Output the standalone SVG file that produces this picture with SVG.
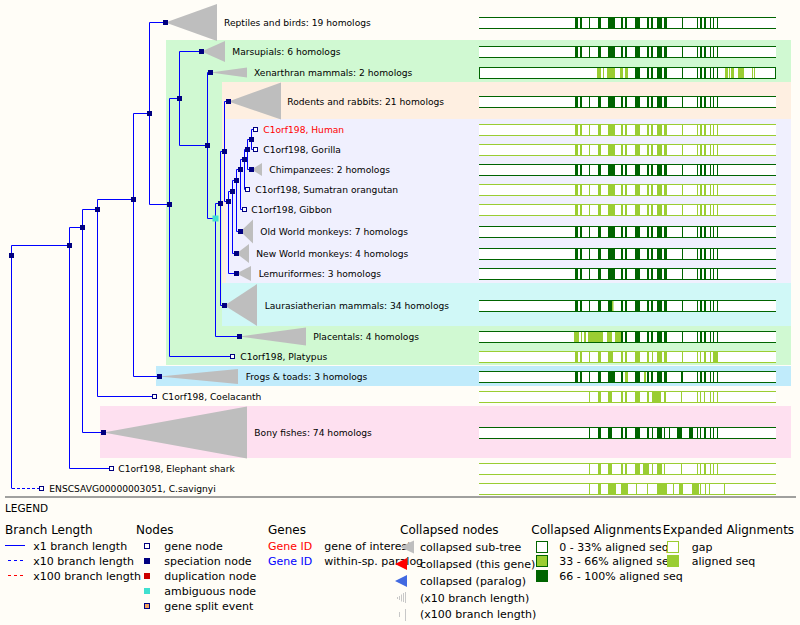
<svg xmlns="http://www.w3.org/2000/svg" width="800" height="625" viewBox="0 0 800 625">
<style>
text{font-family:"DejaVu Sans",Verdana,sans-serif;fill:#000;}
.lbl{font-size:9.15px;}
.hdr{font-size:12px;}
.itm{font-size:11px;}
.edge{fill:none;stroke:#0000ff;stroke-width:1;}
.spec{fill:#000080;}
.gene{fill:#fff;stroke:#000080;stroke-width:1;}
.amb{fill:#40e0d0;}
.tri{fill:#bebebe;}
.dg{fill:#006400;}
.yg{fill:#9acd32;}
.bar{fill:#fff;}
.ldg{stroke:#006400;stroke-width:1;fill:none;}
.lyg{stroke:#9acd32;stroke-width:1;fill:none;}
</style>
<defs>
<g id="pF"><rect x="575" width="3" height="12"/><rect x="580" width="2" height="12"/><rect x="589" width="1" height="12"/><rect x="598" width="3" height="12"/><rect x="608" width="7" height="12"/><rect x="621" width="2" height="12"/><rect x="625" width="2" height="12"/></g>
<g id="pB"><rect x="635" width="5" height="12"/><rect x="647" width="2" height="12"/><rect x="651" width="2" height="12"/><rect x="657" width="5" height="12"/><rect x="664" width="3" height="12"/><rect x="682" width="1" height="12"/><rect x="697" width="1" height="12"/><rect x="700" width="2" height="12"/><rect x="704" width="2" height="12"/><rect x="710" width="1" height="12"/><rect x="713" width="1" height="12"/><rect x="717" width="1" height="12"/></g>
</defs>
<rect width="800" height="625" fill="#fffdf7"/>
<g id="regions">
<rect x="166" y="40" width="625" height="325" fill="#d0f9d2"/>
<rect x="222" y="82" width="569" height="201" fill="#feefe1"/>
<rect x="226" y="119" width="565" height="164" fill="#f0f0fe"/>
<rect x="222" y="283" width="569" height="43" fill="#d0f8f7"/>
<rect x="156" y="366" width="635" height="20" fill="#c0ebfb"/>
<rect x="100" y="406" width="691" height="52" fill="#fee0f0"/>
</g>
<g id="connectors">
<path class="edge" d="M11.5 255.5V245.5H69.5M11.5 255.5V488.5M69.5 245.5V227.5H82.5M69.5 245.5V468.5H111.5M82.5 227.5V209.5H97.5M82.5 227.5V432.5H103.5M97.5 209.5V199.5H133.5M97.5 209.5V396.5H154.5M133.5 199.5V113.5H149.5M133.5 199.5V376.5H159.5M149.5 113.5V22.5H165.5M149.5 113.5V204.5H169.5M169.5 204.5V98.5H179.5M169.5 204.5V356.5H232.5M179.5 98.5V51.5H201.5M179.5 98.5V145.5H207.5M207.5 145.5V72.5H210.5M207.5 145.5V218.5H215.5M215.5 218.5V203.5H220.5M215.5 218.5V336.5H239.5M220.5 203.5V151.5H224.5M220.5 203.5V305.5H224.5M224.5 151.5V101.5H228.5M224.5 151.5V201.5H228.5M228.5 201.5V191.5H232.5M228.5 201.5V273.5H236.5M232.5 191.5V180.5H236.5M232.5 191.5V253.5H236.5M236.5 180.5V169.5H240.5M236.5 180.5V231.5H240.5M240.5 169.5V159.5H244.5M240.5 169.5V209.5H244.5M244.5 159.5V149.5H247.5M244.5 159.5V189.5H247.5M247.5 149.5V139.5H251.5M247.5 149.5V169.5H251.5M251.5 139.5V129.5H255.5M251.5 139.5V149.5H255.5"/>
<path class="edge" stroke-dasharray="3,2" d="M12 488.5H39"/>
</g>
<g id="n-root"><rect class="spec" x="9" y="253" width="5" height="5"/></g>
<g id="n-v1"><rect class="spec" x="67" y="243" width="5" height="5"/></g>
<g id="n-v2"><rect class="spec" x="80" y="225" width="5" height="5"/></g>
<g id="n-v3"><rect class="spec" x="95" y="207" width="5" height="5"/></g>
<g id="n-v4"><rect class="spec" x="131" y="197" width="5" height="5"/></g>
<g id="n-amniota"><rect class="spec" x="147" y="111" width="5" height="5"/></g>
<g id="n-mammalia"><rect class="spec" x="167" y="202" width="5" height="5"/></g>
<g id="n-theria"><rect class="spec" x="177" y="96" width="5" height="5"/></g>
<g id="n-eutheria"><rect class="spec" x="205" y="143" width="5" height="5"/></g>
<g id="n-ambiguous"><rect class="amb" x="212.5" y="215.5" width="6" height="6"/></g>
<g id="n-boreo"><rect class="spec" x="218" y="201" width="5" height="5"/></g>
<g id="n-euarch"><rect class="spec" x="222" y="149" width="5" height="5"/></g>
<g id="n-primates"><rect class="spec" x="226" y="199" width="5" height="5"/></g>
<g id="n-p2"><rect class="spec" x="230" y="189" width="5" height="5"/></g>
<g id="n-p3"><rect class="spec" x="234" y="178" width="5" height="5"/></g>
<g id="n-p4"><rect class="spec" x="238" y="167" width="5" height="5"/></g>
<g id="n-p5"><rect class="spec" x="242" y="157" width="5" height="5"/></g>
<g id="n-p6"><rect class="spec" x="245" y="147" width="5" height="5"/></g>
<g id="n-p7"><rect class="spec" x="249" y="137" width="5" height="5"/></g>

<g id="n-reptiles"><polygon class="tri" points="165.5,22.5 217,4 217,41"/><rect class="spec" x="163" y="20" width="5" height="5"/><text class="lbl" x="224" y="26">Reptiles and birds: 19 homologs</text></g>
<g id="n-marsupials"><polygon class="tri" points="201.5,51.5 225,41 225,62"/><rect class="spec" x="199" y="49" width="5" height="5"/><text class="lbl" x="232.3" y="55">Marsupials: 6 homologs</text></g>
<g id="n-xenarthran"><polygon class="tri" points="210.5,72.5 247,67.5 247,77.5"/><rect class="spec" x="208" y="70" width="5" height="5"/><text class="lbl" x="254" y="76">Xenarthran mammals: 2 homologs</text></g>
<g id="n-rodents"><polygon class="tri" points="228.5,101.5 281,82.5 281,119.5"/><rect class="spec" x="226" y="99" width="5" height="5"/><text class="lbl" x="287.3" y="105">Rodents and rabbits: 21 homologs</text></g>
<g id="n-human"><rect class="gene" x="253.5" y="127.5" width="4" height="4"/><text class="lbl" x="263.3" y="133" style="fill:#ff0000">C1orf198, Human</text></g>
<g id="n-gorilla"><rect class="gene" x="253.5" y="147.5" width="4" height="4"/><text class="lbl" x="263.3" y="153">C1orf198, Gorilla</text></g>
<g id="n-chimps"><polygon class="tri" points="251.5,169.5 262,163 262,176"/><rect class="spec" x="249" y="167" width="5" height="5"/><text class="lbl" x="269.3" y="173">Chimpanzees: 2 homologs</text></g>
<g id="n-sumatran"><rect class="gene" x="245.5" y="187.5" width="4" height="4"/><text class="lbl" x="255.3" y="193">C1orf198, Sumatran orangutan</text></g>
<g id="n-gibbon"><rect class="gene" x="242.5" y="207.5" width="4" height="4"/><text class="lbl" x="251.3" y="213">C1orf198, Gibbon</text></g>
<g id="n-oldworld"><polygon class="tri" points="240.5,231.5 253,219.5 253,243.5"/><rect class="spec" x="238" y="229" width="5" height="5"/><text class="lbl" x="260.3" y="235">Old World monkeys: 7 homologs</text></g>
<g id="n-newworld"><polygon class="tri" points="236.5,253.5 249,244 249,263"/><rect class="spec" x="234" y="251" width="5" height="5"/><text class="lbl" x="256.3" y="257">New World monkeys: 4 homologs</text></g>
<g id="n-lemuriformes"><polygon class="tri" points="236.5,273.5 251,266 251,281"/><rect class="spec" x="234" y="271" width="5" height="5"/><text class="lbl" x="258.7" y="277">Lemuriformes: 3 homologs</text></g>
<g id="n-laurasiatheria"><polygon class="tri" points="224.5,305.5 257,284 257,326"/><rect class="spec" x="222" y="303" width="5" height="5"/><text class="lbl" x="264.7" y="309">Laurasiatherian mammals: 34 homologs</text></g>
<g id="n-placentals"><polygon class="tri" points="239.5,336.5 306,327.5 306,345.5"/><rect class="spec" x="237" y="334" width="5" height="5"/><text class="lbl" x="313.3" y="340">Placentals: 4 homologs</text></g>
<g id="n-platypus"><rect class="gene" x="230.5" y="354.5" width="4" height="4"/><text class="lbl" x="240.3" y="360">C1orf198, Platypus</text></g>
<g id="n-frogs"><polygon class="tri" points="159.5,376.5 238,369 238,384"/><rect class="spec" x="157" y="374" width="5" height="5"/><text class="lbl" x="245.7" y="380">Frogs &amp; toads: 3 homologs</text></g>
<g id="n-coelacanth"><rect class="gene" x="152.5" y="394.5" width="4" height="4"/><text class="lbl" x="162" y="400">C1orf198, Coelacanth</text></g>
<g id="n-bonyfishes"><polygon class="tri" points="103.5,432.5 247,406.5 247,458.5"/><rect class="spec" x="101" y="430" width="5" height="5"/><text class="lbl" x="254.3" y="436">Bony fishes: 74 homologs</text></g>
<g id="n-elephantshark"><rect class="gene" x="109.5" y="466.5" width="4" height="4"/><text class="lbl" x="118.3" y="472">C1orf198, Elephant shark</text></g>
<g id="n-savignyi"><rect class="gene" x="39.5" y="486.5" width="4" height="4"/><text class="lbl" x="49.3" y="492">ENSCSAVG00000003051, C.savignyi</text></g>

<g id="alignments">
<g transform="translate(0,17)"><rect class="bar" x="479" width="297" height="12"/><use href="#pF" class="dg"/><use href="#pB" class="dg"/><path class="ldg" d="M479 0.5H776M479 11.5H776"/></g>
<g transform="translate(0,46)"><rect class="bar" x="479" width="297" height="12"/><use href="#pF" class="dg"/><use href="#pB" class="dg"/><path class="ldg" d="M479 0.5H776M479 11.5H776"/></g>
<g transform="translate(0,67)"><rect class="bar" x="479" width="297" height="12"/><g class="yg"><rect x="597" width="4" height="12"/><rect x="603" width="1" height="12"/><rect x="607" width="8" height="12"/><rect x="620" width="3" height="12"/><rect x="625" width="3" height="12"/><rect x="725" width="3" height="12"/><rect x="729" width="1" height="12"/><rect x="731" width="3" height="12"/><rect x="738" width="6" height="12"/><rect x="752" width="1" height="12"/><rect x="754" width="1" height="12"/></g><use href="#pB" class="dg"/><rect class="ldg" x="479.5" y="0.5" width="296" height="11"/></g>
<g transform="translate(0,96)"><rect class="bar" x="479" width="297" height="12"/><use href="#pF" class="dg"/><use href="#pB" class="dg"/><path class="ldg" d="M479 0.5H776M479 11.5H776"/></g>
<g transform="translate(0,124)"><rect class="bar" x="479" width="297" height="12"/><use href="#pF" class="yg"/><use href="#pB" class="yg"/><path class="lyg" d="M479 0.5H776M479 11.5H776"/></g>
<g transform="translate(0,144)"><rect class="bar" x="479" width="297" height="12"/><use href="#pF" class="yg"/><use href="#pB" class="yg"/><path class="lyg" d="M479 0.5H776M479 11.5H776"/></g>
<g transform="translate(0,164)"><rect class="bar" x="479" width="297" height="12"/><use href="#pF" class="dg"/><use href="#pB" class="dg"/><path class="ldg" d="M479 0.5H776M479 11.5H776"/></g>
<g transform="translate(0,184)"><rect class="bar" x="479" width="297" height="12"/><use href="#pF" class="yg"/><use href="#pB" class="yg"/><path class="lyg" d="M479 0.5H776M479 11.5H776"/></g>
<g transform="translate(0,204)"><rect class="bar" x="479" width="297" height="12"/><use href="#pF" class="yg"/><use href="#pB" class="yg"/><path class="lyg" d="M479 0.5H776M479 11.5H776"/></g>
<g transform="translate(0,226)"><rect class="bar" x="479" width="297" height="12"/><use href="#pF" class="dg"/><use href="#pB" class="dg"/><path class="ldg" d="M479 0.5H776M479 11.5H776"/></g>
<g transform="translate(0,248)"><rect class="bar" x="479" width="297" height="12"/><use href="#pF" class="dg"/><use href="#pB" class="dg"/><path class="ldg" d="M479 0.5H776M479 11.5H776"/></g>
<g transform="translate(0,268)"><rect class="bar" x="479" width="297" height="12"/><use href="#pF" class="dg"/><use href="#pB" class="dg"/><path class="ldg" d="M479 0.5H776M479 11.5H776"/></g>
<g transform="translate(0,300)"><rect class="bar" x="479" width="297" height="12"/><g class="dg"><rect x="575" width="3" height="12"/><rect x="580" width="2" height="12"/><rect x="589" width="1" height="12"/><rect x="598" width="3" height="12"/><rect x="608" width="4" height="12"/><rect x="621" width="2" height="12"/><rect x="625" width="2" height="12"/></g><rect class="yg" x="612" width="1.5" height="12"/><use href="#pB" class="dg"/><path class="ldg" d="M479 0.5H776M479 11.5H776"/></g>
<g transform="translate(0,331)"><rect class="bar" x="479" width="297" height="12"/><g class="yg"><rect x="574" width="5" height="12"/><rect x="581" width="1" height="12"/><rect x="584" width="2" height="12"/><rect x="588" width="15" height="12"/><rect x="607" width="5" height="12"/><rect x="615" width="6" height="12"/></g><g class="dg"><rect x="621" width="2" height="12"/><rect x="625" width="2" height="12"/></g><use href="#pB" class="dg"/><path class="ldg" d="M479 0.5H776M479 11.5H776"/></g>
<g transform="translate(0,351)"><rect class="bar" x="479" width="297" height="12"/><g class="yg"><rect x="575" width="3" height="12"/><rect x="580" width="2" height="12"/><rect x="589" width="1" height="12"/><rect x="598" width="3" height="12"/><rect x="608" width="5" height="12"/><rect x="621" width="2" height="12"/><rect x="625" width="2" height="12"/><rect x="635" width="5" height="12"/><rect x="647" width="2" height="12"/><rect x="652" width="1" height="12"/><rect x="657" width="5" height="12"/><rect x="664" width="3" height="12"/><rect x="682" width="1" height="12"/><rect x="697" width="1" height="12"/><rect x="700" width="1" height="12"/><rect x="704" width="2" height="12"/><rect x="710" width="1" height="12"/><rect x="713" width="5" height="12"/></g><path class="lyg" d="M479 0.5H776M479 11.5H776"/></g>
<g transform="translate(0,371)"><rect class="bar" x="479" width="297" height="12"/><g class="dg"><rect x="575" width="3" height="12"/><rect x="580" width="2" height="12"/><rect x="589" width="1" height="12"/><rect x="598" width="3" height="12"/><rect x="608" width="7" height="12"/><rect x="621" width="2" height="12"/><rect x="635" width="5" height="12"/><rect x="647" width="2" height="12"/><rect x="651" width="2" height="12"/><rect x="657" width="5" height="12"/><rect x="664" width="3" height="12"/><rect x="681" width="2" height="12"/><rect x="697" width="1" height="12"/><rect x="700" width="2" height="12"/><rect x="704" width="2" height="12"/><rect x="710" width="1" height="12"/><rect x="713" width="1" height="12"/><rect x="717" width="1" height="12"/></g><g class="yg"><rect x="625" width="3" height="12"/><rect x="644" width="2" height="12"/></g><path class="ldg" d="M479 0.5H776M479 11.5H776"/></g>
<g transform="translate(0,391)"><rect class="bar" x="479" width="297" height="12"/><g class="yg"><rect x="589" width="1" height="12"/><rect x="598" width="3" height="12"/><rect x="608" width="4" height="12"/><rect x="621" width="2" height="12"/><rect x="625" width="2" height="12"/><rect x="635" width="5" height="12"/><rect x="647" width="2" height="12"/><rect x="652" width="9" height="12"/><rect x="664" width="2" height="12"/><rect x="681" width="1" height="12"/><rect x="697" width="1" height="12"/><rect x="700" width="1" height="12"/><rect x="704" width="1" height="12"/><rect x="710" width="1" height="12"/><rect x="713" width="1" height="12"/><rect x="717" width="1" height="12"/></g><path class="lyg" d="M479 0.5H776M479 11.5H776"/></g>
<g transform="translate(0,427)"><rect class="bar" x="479" width="297" height="12"/><g class="dg"><rect x="589" width="1" height="12"/><rect x="598" width="3" height="12"/><rect x="608" width="4" height="12"/><rect x="621" width="2" height="12"/><rect x="625" width="2" height="12"/><rect x="635" width="5" height="12"/><rect x="647" width="2" height="12"/><rect x="652" width="1" height="12"/><rect x="657" width="5" height="12"/><rect x="664" width="1" height="12"/><rect x="669" width="1" height="12"/><rect x="677" width="5" height="12"/><rect x="689" width="4" height="12"/><rect x="697" width="1" height="12"/><rect x="700" width="1" height="12"/><rect x="704" width="2" height="12"/><rect x="710" width="1" height="12"/><rect x="713" width="1" height="12"/><rect x="717" width="1" height="12"/></g><path class="ldg" d="M479 0.5H776M479 11.5H776"/></g>
<g transform="translate(0,463)"><rect class="bar" x="479" width="297" height="12"/><g class="yg"><rect x="589" width="1" height="12"/><rect x="598" width="3" height="12"/><rect x="608" width="4" height="12"/><rect x="621" width="2" height="12"/><rect x="625" width="2" height="12"/><rect x="635" width="5" height="12"/><rect x="643" width="6" height="12"/><rect x="652" width="1" height="12"/><rect x="657" width="5" height="12"/><rect x="664" width="1" height="12"/><rect x="681" width="1" height="12"/><rect x="697" width="1" height="12"/><rect x="700" width="1" height="12"/><rect x="704" width="2" height="12"/><rect x="710" width="1" height="12"/><rect x="713" width="1" height="12"/><rect x="717" width="1" height="12"/></g><path class="lyg" d="M479 0.5H776M479 11.5H776"/></g>
<g transform="translate(0,483)"><rect class="bar" x="479" width="297" height="12"/><g class="yg"><rect x="589" width="1" height="12"/><rect x="598" width="3" height="12"/><rect x="608" width="8" height="12"/><rect x="621" width="7" height="12"/><rect x="636" width="1" height="12"/><rect x="647" width="1" height="12"/><rect x="657" width="10" height="12"/><rect x="673" width="1" height="12"/><rect x="679" width="4" height="12"/><rect x="692" width="7" height="12"/><rect x="700" width="1" height="12"/><rect x="705" width="1" height="12"/><rect x="709" width="1" height="12"/><rect x="724" width="1" height="12"/></g><path class="lyg" d="M479 0.5H776M479 11.5H776"/></g>
</g>

<g id="legend">
<path d="M5 497H796" stroke="#808080" stroke-width="1.5"/>
<text x="5" y="511.5" style="font-size:10.5px">LEGEND</text>
<text class="hdr" x="5" y="534">Branch Length</text>
<text class="hdr" x="136" y="534">Nodes</text>
<text class="hdr" x="268" y="534">Genes</text>
<text class="hdr" x="400" y="534">Collapsed nodes</text>
<text class="hdr" x="531.3" y="534">Collapsed Alignments</text>
<text class="hdr" x="662.7" y="534">Expanded Alignments</text>
<path d="M5 545.5H25" stroke="#0000ff" stroke-width="1"/>
<path d="M8 560.5H24" stroke="#0000ff" stroke-width="1" stroke-dasharray="3,3"/>
<path d="M8 575.5H24" stroke="#ff0000" stroke-width="1" stroke-dasharray="3,3"/>
<text class="itm" x="33.3" y="550">x1 branch length</text>
<text class="itm" x="33.3" y="565">x10 branch length</text>
<text class="itm" x="33.3" y="580">x100 branch length</text>
<rect x="144.5" y="543.5" width="5" height="5" fill="#fff" stroke="#000080"/>
<rect x="144" y="558" width="6" height="6" fill="#000080"/>
<rect x="144" y="573" width="6" height="6" fill="#cc0000"/>
<rect x="144" y="588" width="6" height="6" fill="#40e0d0"/>
<rect x="144.5" y="603.5" width="5" height="5" fill="#f4a460" stroke="#000080"/>
<text class="itm" x="164.3" y="550">gene node</text>
<text class="itm" x="164.3" y="565">speciation node</text>
<text class="itm" x="164.3" y="580">duplication node</text>
<text class="itm" x="164.3" y="595">ambiguous node</text>
<text class="itm" x="164.3" y="610">gene split event</text>
<text class="itm" x="268" y="550" style="fill:#ff0000">Gene ID</text>
<text class="itm" x="268" y="565" style="fill:#0000ff">Gene ID</text>
<text class="itm" x="324.3" y="550">gene of interest</text>
<text class="itm" x="324.3" y="565">within-sp. paralog</text>
<polygon points="400,547 414,540.5 414,553.5" fill="#bebebe"/>
<polygon points="395,564 407,558 407,570" fill="#ff0000"/>
<polygon points="395,581 407,575 407,587" fill="#4169e1"/>
<path d="M397.5 597V599M399.5 596V600M401.5 594.5V601.5M403.5 593V602M405.5 592V603" stroke="#c8c8c8" stroke-width="1"/>
<path d="M399.5 612V617M405.5 609V621" stroke="#c8c8c8" stroke-width="1"/>
<text class="itm" x="420" y="551">collapsed sub-tree</text>
<text class="itm" x="420" y="568">collapsed (this gene)</text>
<text class="itm" x="420" y="585">collapsed (paralog)</text>
<text class="itm" x="420" y="602">(x10 branch length)</text>
<text class="itm" x="420" y="618">(x100 branch length)</text>
<text class="itm" x="559.3" y="550.5">0 - 33% aligned seq</text>
<text class="itm" x="559.3" y="565">33 - 66% aligned seq</text>
<text class="itm" x="559.3" y="580">66 - 100% aligned seq</text>
<rect x="536.5" y="541.5" width="11" height="11" fill="#fff" stroke="#006400"/>
<rect x="536.5" y="555.5" width="11" height="11" fill="#9acd32" stroke="#006400"/>
<rect x="536.5" y="570.5" width="11" height="11" fill="#006400" stroke="#006400"/>
<rect x="667.5" y="541.5" width="11" height="11" fill="#fff" stroke="#9acd32"/>
<rect x="667.5" y="555.5" width="11" height="11" fill="#9acd32" stroke="#9acd32"/>
<text class="itm" x="691.7" y="550.5">gap</text>
<text class="itm" x="691.7" y="565">aligned seq</text>
</g>
</svg>
